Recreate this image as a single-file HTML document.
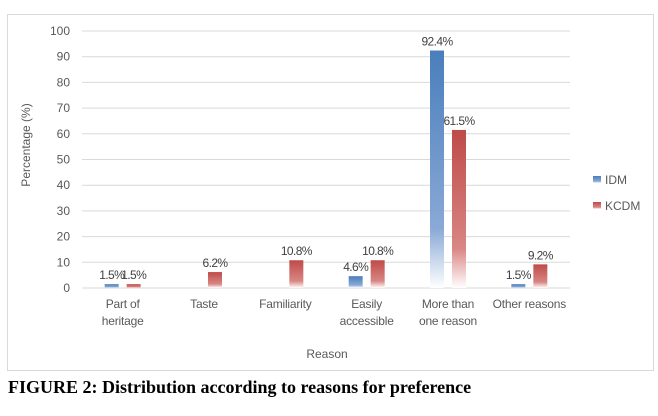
<!DOCTYPE html>
<html><head><meta charset="utf-8"><style>
body{margin:0;background:#fff;width:658px;height:411px;overflow:hidden}
svg text{font-family:"Liberation Sans",sans-serif}
</style></head><body>
<svg width="658" height="411">
<defs>
<linearGradient id="gb" x1="0" y1="0" x2="0" y2="1"><stop offset="0" stop-color="#4a7ebb"/><stop offset="0.75" stop-color="#8aa9d6"/><stop offset="1" stop-color="#ffffff"/></linearGradient>
<linearGradient id="gr" x1="0" y1="0" x2="0" y2="1"><stop offset="0" stop-color="#be4b48"/><stop offset="0.75" stop-color="#d98684"/><stop offset="1" stop-color="#ffffff"/></linearGradient>
</defs>
<rect x="7.5" y="14.5" width="646" height="356" fill="#fff" stroke="#d9d9d9"/>
<g id="grid"></g><g id="bars"></g>
<text x="30" y="145" transform="rotate(-90 30 145)" text-anchor="middle" font-size="12" fill="#595959">Percentage (%)</text>
<text x="327" y="358" text-anchor="middle" font-size="12" fill="#595959">Reason</text>
<g><rect x="593" y="176" width="8" height="7" fill="url(#gb)"/><text x="605" y="184" font-size="12" fill="#595959">IDM</text></g>
<g><rect x="593" y="202" width="8" height="7" fill="url(#gr)"/><text x="605" y="210" font-size="12" fill="#595959">KCDM</text></g>
<text x="8" y="393" font-weight="bold" font-size="18" fill="#000" style="font-family:'Liberation Serif',serif">FIGURE 2: Distribution according to reasons for preference</text>
</svg>
<script>
const categories=[["Part of","heritage"],["Taste"],["Familiarity"],["Easily","accessible"],["More than","one reason"],["Other reasons"]];
const idm=[1.5,null,null,4.6,92.4,1.5];
const kcdm=[1.5,6.2,10.8,10.8,61.5,9.2];
const yTicks=[0,10,20,30,40,50,60,70,80,90,100];
const NS="http://www.w3.org/2000/svg";
const x0=82,x1=570,yTop=31,yBot=288;
const y=v=>yBot-(v/100)*(yBot-yTop);
const bw=(x1-x0)/categories.length;
const cx=i=>x0+bw*(i+0.5);
function el(t,a,p,txt){const e=document.createElementNS(NS,t);for(const k in a)e.setAttribute(k,a[k]);if(txt!=null)e.textContent=txt;p.appendChild(e);return e;}
const svg=document.querySelector("svg"),grid=document.getElementById("grid"),bars=document.getElementById("bars");
yTicks.forEach(t=>{
 const l=el("line",{x1:x0,x2:x1,y1:y(t),y2:y(t),stroke:"#d9d9d9","stroke-width":1},grid);
 
 
 const tx=el("text",{x:70,y:y(t)+4,"text-anchor":"end","font-size":12,fill:"#595959"},grid,t);
 
 
});
categories.forEach((c,i)=>{
 const tx=el("text",{x:cx(i),y:308,"text-anchor":"middle","font-size":12,fill:"#595959","letter-spacing":"-0.2"},grid);
 
 
 c.forEach((s,j)=>el("tspan",{x:cx(i),dy:j?17:0},tx,s));
 [[idm,"url(#gb)",-11],[kcdm,"url(#gr)",11]].forEach(([arr,f,off])=>{
  const v=arr[i];if(v==null)return;
  const r=el("rect",{x:cx(i)+off-7,y:y(v),width:14,height:yBot-y(v),fill:f},bars);
  
  
  const lb=el("text",{x:cx(i)+off,y:y(v)-5,"text-anchor":"middle","font-size":12,fill:"#404040","letter-spacing":"-0.6"},bars,v.toFixed(1)+"%");
  
  
 });
});
</script>
</body></html>
